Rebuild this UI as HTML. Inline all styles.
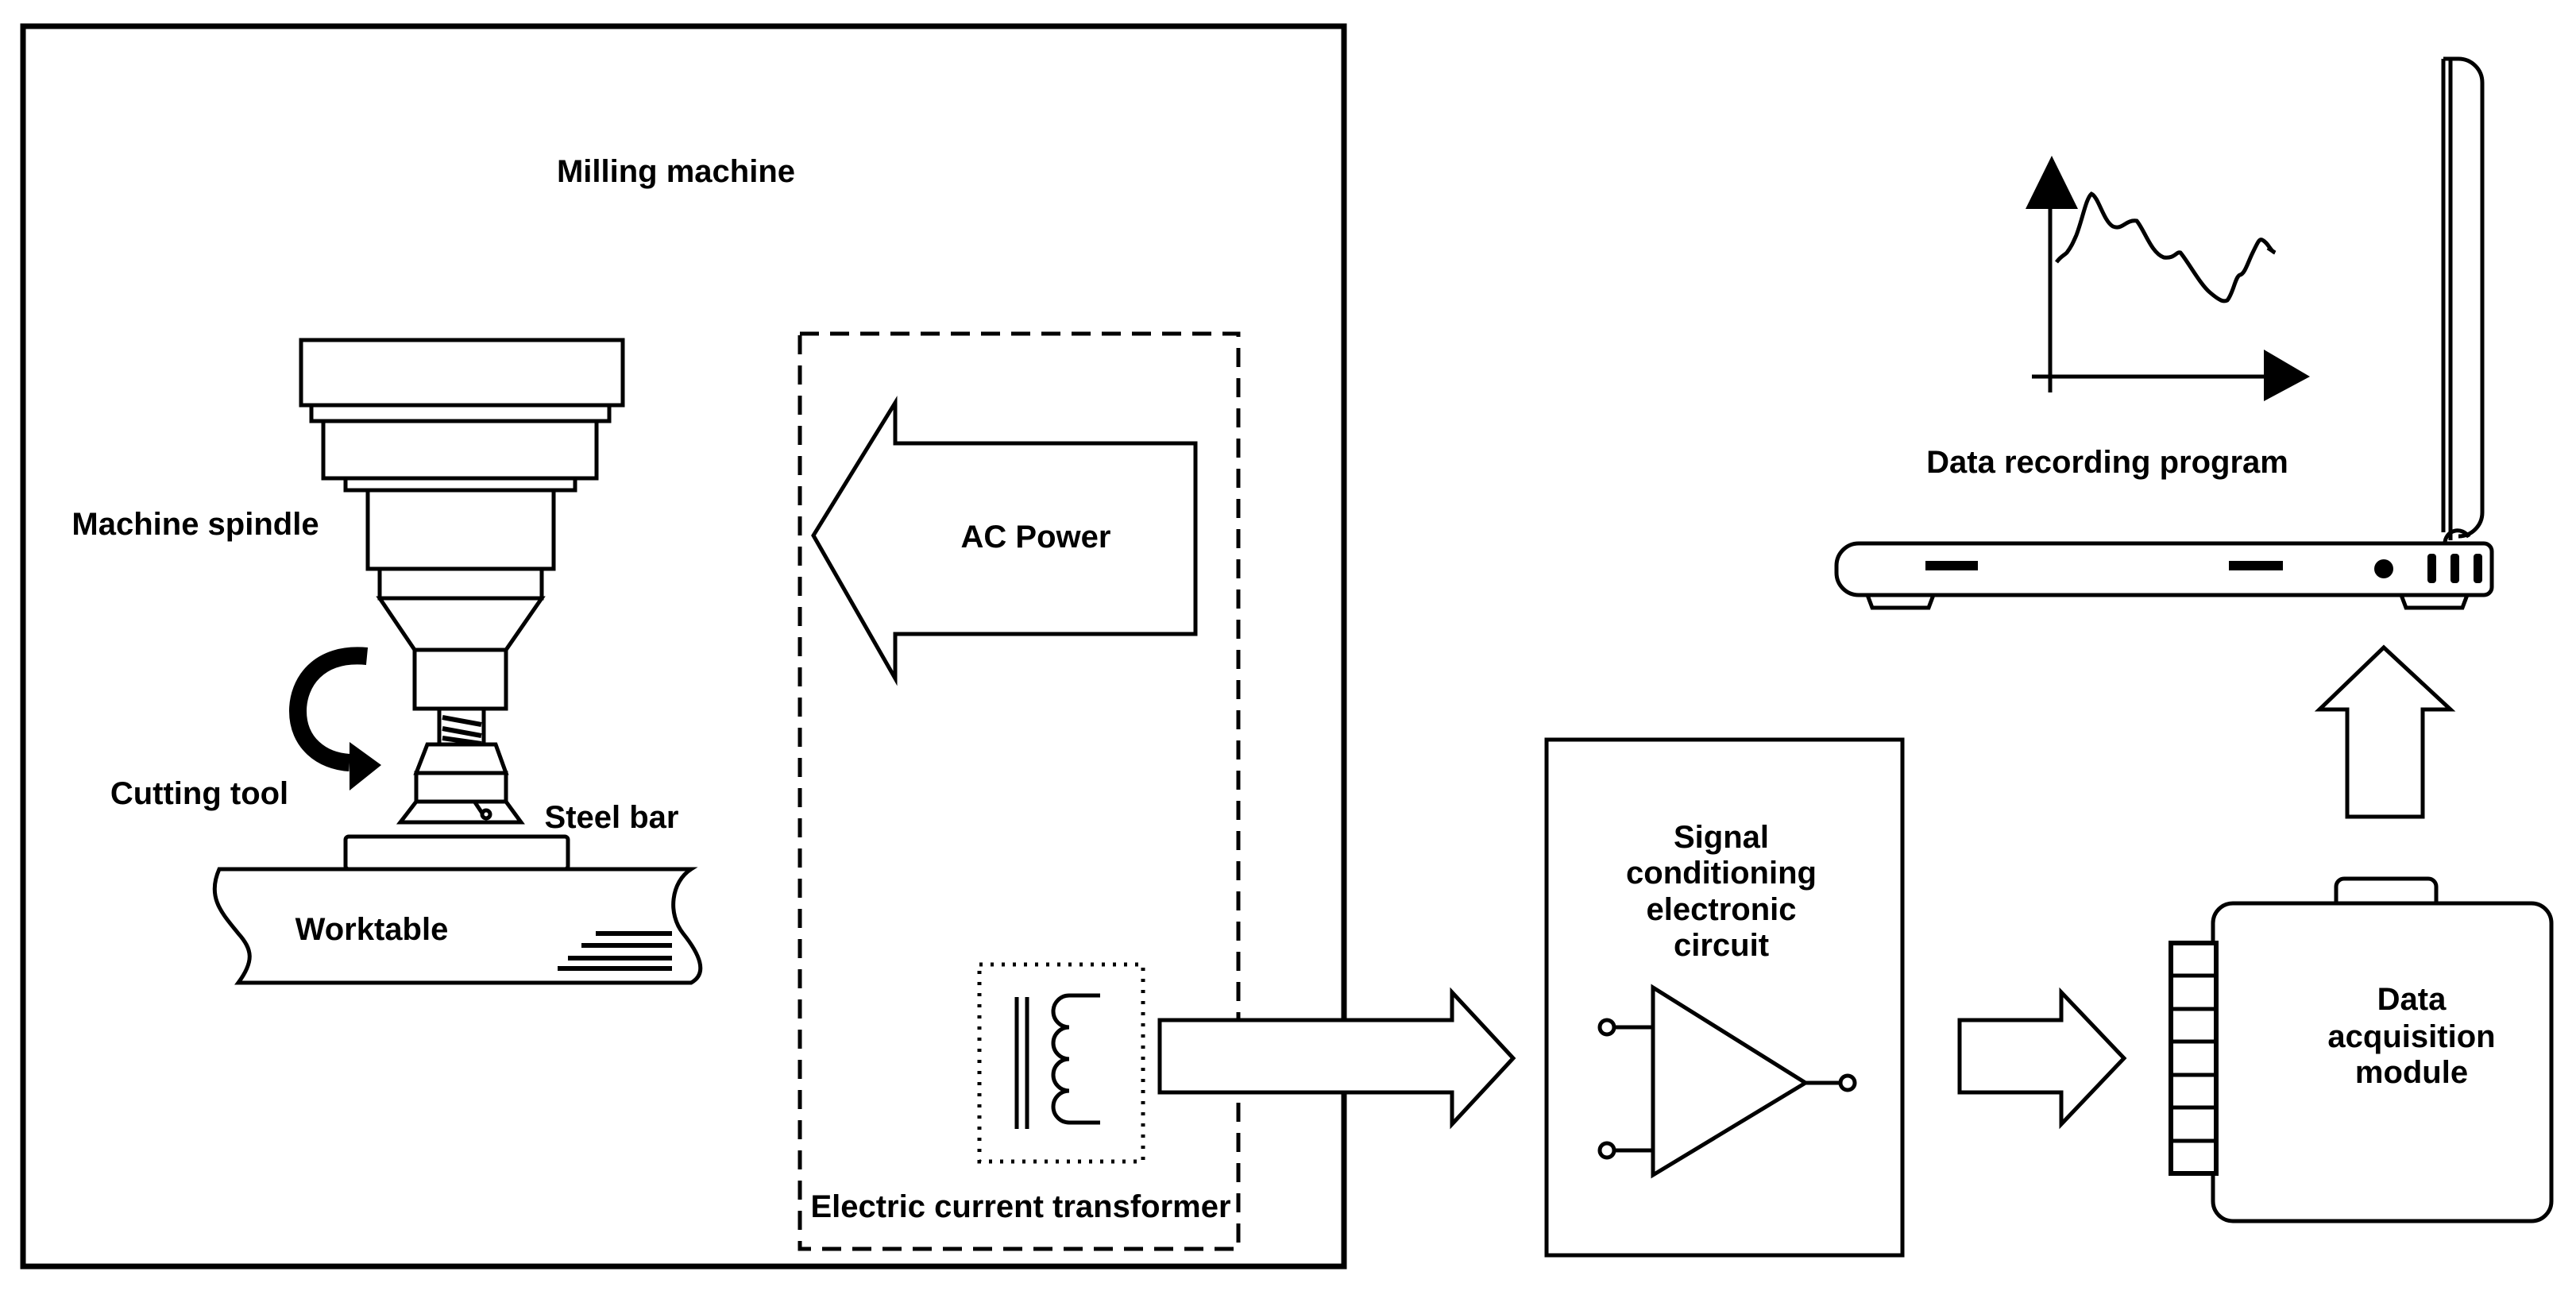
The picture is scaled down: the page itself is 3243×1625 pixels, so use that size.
<!DOCTYPE html>
<html><head><meta charset="utf-8"><style>
html,body{margin:0;padding:0;background:#fff}
svg{display:block}
text{font-family:"Liberation Sans",Arial,sans-serif;font-weight:bold;font-size:40px;fill:#000}
</style></head><body>
<svg width="3243" height="1625" viewBox="0 0 3243 1625" xmlns="http://www.w3.org/2000/svg">
<g fill="none" stroke="#000" stroke-width="5">
<rect x="29" y="33" width="1663" height="1561" stroke-width="7"/>
<rect x="1007" y="420" width="552" height="1152" stroke-dasharray="24,14"/>
<polygon points="1024,674 1127,507 1127,558 1505,558 1505,798 1127,798 1127,854" fill="#fff"/>
<rect x="1233" y="1214" width="206" height="248" stroke-dasharray="4,10" stroke-width="5"/>
<line x1="1280" y1="1255" x2="1280" y2="1421"/>
<line x1="1293" y1="1255" x2="1293" y2="1421"/>
<path d="M1385,1253 H1346 a20,20 0 0,0 0,40 a20,20 0 0,0 0,40 a20,20 0 0,0 0,40 a20,20 0 0,0 0,40 H1385"/>
<polygon points="1460,1284 1828,1284 1828,1249 1905,1332 1828,1415 1828,1375 1460,1375" fill="#fff"/>
<rect x="1947" y="931" width="448" height="649"/>
<polygon points="2081,1243 2273,1363 2081,1479" />
<line x1="2030" y1="1293" x2="2081" y2="1293"/>
<line x1="2030" y1="1448" x2="2081" y2="1448"/>
<line x1="2273" y1="1363" x2="2315" y2="1363"/>
<circle cx="2023" cy="1293" r="9"/>
<circle cx="2023" cy="1448" r="9"/>
<circle cx="2326" cy="1363" r="9"/>
<polygon points="2467,1284 2595,1284 2595,1249 2674,1332 2595,1415 2595,1375 2467,1375" fill="#fff"/>
<rect x="2941" y="1106" width="126" height="40" rx="10"/>
<rect x="2786" y="1137" width="426" height="400" rx="25" fill="#fff"/>
<rect x="2733" y="1187" width="57" height="290" fill="#fff" stroke-width="6"/>
<line x1="2733" y1="1228" x2="2790" y2="1228"/>
<line x1="2733" y1="1270" x2="2790" y2="1270"/>
<line x1="2733" y1="1311" x2="2790" y2="1311"/>
<line x1="2733" y1="1353" x2="2790" y2="1353"/>
<line x1="2733" y1="1394" x2="2790" y2="1394"/>
<line x1="2733" y1="1436" x2="2790" y2="1436"/>
<polygon points="3001,815 3085,893 3050,893 3050,1028 2955,1028 2955,893 2920,893" fill="#fff"/>
<path d="M3085,680 V74 h10 a30,30 0 0,1 30,30 V645 a30,30 0 0,1 -30,30" />
<line x1="3076" y1="74" x2="3076" y2="670"/>
<line x1="3085" y1="74" x2="3076" y2="74"/>
<path d="M3078,684 a16,16 0 0,1 30,-8"/>
<polygon points="2351,749 2434,749 2428,765 2357,765"/>
<polygon points="3023,749 3106,749 3100,765 3029,765"/>
<path d="M2340,684 H3127 a10,10 0 0,1 10,10 V739 a10,10 0 0,1 -10,10 H2340 a28,28 0 0,1 -28,-28 V712 a28,28 0 0,1 28,-28 Z" fill="#fff"/>
<line x1="2581" y1="255" x2="2581" y2="494"/>
<line x1="2558" y1="474" x2="2855" y2="474"/>
<path d="M2589,330 C2595,322 2598,322 2602,318 C2608,310 2610,305 2614,296 C2622,275 2626,250 2633,244 C2642,248 2648,278 2660,285 C2672,290 2676,276 2690,278 C2700,290 2708,318 2724,324 C2738,326 2740,316 2745,318 C2755,330 2770,358 2782,368 C2796,380 2800,380 2804,378 C2812,368 2814,348 2820,346 C2826,345 2830,330 2836,318 C2842,306 2844,300 2848,302 C2856,306 2858,316 2864,318 L2855,312" stroke-width="5"/>
<rect x="379" y="428" width="405" height="82"/>
<rect x="392" y="510" width="375" height="20"/>
<rect x="407" y="530" width="344" height="72"/>
<rect x="435" y="602" width="289" height="15"/>
<rect x="463" y="617" width="234" height="99"/>
<rect x="478" y="716" width="204" height="37"/>
<polygon points="478,753 682,753 637,818 522,818"/>
<rect x="522" y="818" width="115" height="74"/>
<rect x="553" y="892" width="56" height="45"/>
<polygon points="538,937 624,937 637,973 524,973"/>
<rect x="524" y="973" width="113" height="36"/>
<polygon points="524,1009 637,1009 656,1035 504,1035"/>
<circle cx="612" cy="1025" r="5"/>
<path d="M598,1010 L608,1025"/>
<path d="M276,1094 H870 C845,1110 840,1150 860,1175 C880,1200 892,1225 870,1237 H300 C320,1210 318,1195 300,1175 C280,1150 260,1130 276,1094 Z" fill="#fff"/>
<rect x="435" y="1053" width="280" height="41" rx="4" fill="#fff"/>
</g>
<g stroke="#000" stroke-width="6">
<line x1="557" y1="903" x2="606" y2="912"/>
<line x1="557" y1="917" x2="606" y2="926"/>
<line x1="557" y1="929" x2="606" y2="936"/>
<line x1="750" y1="1175" x2="846" y2="1175"/>
<line x1="732" y1="1190" x2="846" y2="1190"/>
<line x1="715" y1="1206" x2="846" y2="1206"/>
<line x1="702" y1="1219" x2="846" y2="1219"/>
</g>
<path d="M462,826 C400,820 375,860 375,895 C375,935 405,958 440,960" fill="none" stroke="#000" stroke-width="22"/>
<polygon points="440,934 480,963 440,995" fill="#000"/>
<polygon points="2550,263 2616,263 2583,196" fill="#000"/>
<polygon points="2850,440 2908,474 2850,505" fill="#000"/>
<rect x="2424" y="706" width="66" height="12" fill="#000"/>
<rect x="2806" y="706" width="68" height="12" fill="#000"/>
<circle cx="3001" cy="716" r="12" fill="#000"/>
<rect x="3056" y="697" width="11" height="37" rx="4" fill="#000"/>
<rect x="3085" y="697" width="11" height="37" rx="4" fill="#000"/>
<rect x="3114" y="697" width="11" height="37" rx="4" fill="#000"/>
<text x="851" y="229" text-anchor="middle">Milling machine</text>
<text x="246" y="673" text-anchor="middle">Machine spindle</text>
<text x="251" y="1012" text-anchor="middle">Cutting tool</text>
<text x="770" y="1042" text-anchor="middle">Steel bar</text>
<text x="468" y="1183" text-anchor="middle">Worktable</text>
<text x="1304" y="689" text-anchor="middle">AC Power</text>
<text x="1285" y="1532" text-anchor="middle">Electric current transformer</text>
<text x="2167" y="1067" text-anchor="middle">Signal</text>
<text x="2167" y="1112" text-anchor="middle">conditioning</text>
<text x="2167" y="1158" text-anchor="middle">electronic</text>
<text x="2167" y="1203" text-anchor="middle">circuit</text>
<text x="3036" y="1271" text-anchor="middle">Data</text>
<text x="3036" y="1318" text-anchor="middle">acquisition</text>
<text x="3036" y="1363" text-anchor="middle">module</text>
<text x="2653" y="595" text-anchor="middle">Data recording program</text>
</svg>
</body></html>
